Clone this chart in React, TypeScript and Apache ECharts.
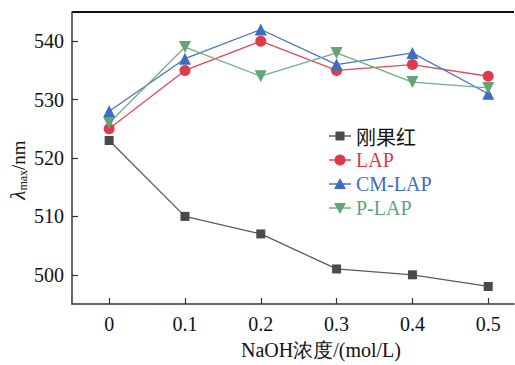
import React, { useEffect, useRef } from "react";
import * as echarts from "echarts";

const xValues = [0, 0.1, 0.2, 0.3, 0.4, 0.5];
const congoRed = [523, 510, 507, 501, 500, 498];
const lap = [525, 535, 540, 535, 536, 534];
const cmLap = [528, 537, 542, 536, 538, 531];
const pLap = [526, 539, 534, 538, 533, 532];
const seriesNames = ["刚果红", "LAP", "CM-LAP", "P-LAP"];
const seriesColors = ["#4a4a4a", "#e0394a", "#3d6cc0", "#63a378"];
const lineColors = ["#5a5a5a", "#e04a58", "#4a72c0", "#72ad84"];
const legendTextColors = ["#111111", "#e0394a", "#3d6cc0", "#63a378"];

const FONT = "Liberation Serif";

export default function App() {
  const ref = useRef<HTMLDivElement>(null);
  useEffect(() => {
    document.body.style.margin = "0";
    const chart = echarts.init(ref.current!, null, { renderer: "svg" });
    const pair = (arr: number[]) => xValues.map((x, i) => [x, arr[i]]);
    const mk = (i: number, data: number[], symbol: string, size: number, rotate = 0) => ({
      name: seriesNames[i],
      type: "line",
      data: pair(data),
      symbol,
      symbolSize: size,
      symbolRotate: rotate,
      itemStyle: { color: seriesColors[i] },
      lineStyle: { color: lineColors[i], width: 1.3 },
    });

    // legend drawn as graphic (line + marker + text)
    const legendX = 329;
    const legendY = [136, 160, 184, 208];
    const legendItems: any[] = [];
    seriesNames.forEach((name, i) => {
      const y = legendY[i];
      legendItems.push({
        type: "line",
        shape: { x1: legendX, y1: y, x2: legendX + 22, y2: y },
        style: { stroke: lineColors[i], lineWidth: 1.5 },
      });
      const cx = legendX + 11;
      if (i === 0) {
        legendItems.push({ type: "rect", shape: { x: cx - 4.5, y: y - 4.5, width: 9, height: 9 }, style: { fill: seriesColors[i] } });
      } else if (i === 1) {
        legendItems.push({ type: "circle", shape: { cx, cy: y, r: 5.5 }, style: { fill: seriesColors[i] } });
      } else if (i === 2) {
        legendItems.push({ type: "polygon", shape: { points: [[cx, y - 6], [cx + 6, y + 5], [cx - 6, y + 5]] }, style: { fill: seriesColors[i] } });
      } else {
        legendItems.push({ type: "polygon", shape: { points: [[cx, y + 6], [cx + 6, y - 5], [cx - 6, y - 5]] }, style: { fill: seriesColors[i] } });
      }
      legendItems.push({
        type: "text",
        x: legendX + 27,
        y,
        style: {
          text: name,
          fill: legendTextColors[i],
          fontSize: 20,
          fontFamily: i === 0 ? "Noto Sans CJK SC" : FONT,
          verticalAlign: "middle",
          align: "left",
        },
      });
    });

    chart.setOption({
      animation: false,
      textStyle: { fontFamily: FONT },
      grid: { left: 72, top: 12, right: 1, bottom: 49 },
      xAxis: {
        type: "value",
        min: -0.049,
        max: 0.534,
        splitNumber: 6,
        axisLine: { onZero: false, lineStyle: { color: "#333", width: 1.5 } },
        axisTick: { inside: true, length: 6, lineStyle: { color: "#333", width: 1.2 } },
        axisLabel: {
          color: "#111",
          fontSize: 20,
          fontFamily: FONT,
          margin: 10,
          showMinLabel: false,
          showMaxLabel: false,
          formatter: (v: number) => (v < -0.001 || v > 0.501 ? "" : String(Math.round(v * 10) / 10)),
        },
        splitLine: { show: false },
        name: "NaOH浓度/(mol/L)",
        nameLocation: "middle",
        nameGap: 36,
        nameTextStyle: { color: "#111", fontSize: 20, fontFamily: FONT, padding: [0, 0, 0, 56] },
      },
      yAxis: {
        type: "value",
        min: 495,
        max: 545,
        splitNumber: 5,
        axisLine: { show: true, onZero: false, lineStyle: { color: "#333", width: 1.5 } },
        axisTick: { show: true, inside: true, length: 6, lineStyle: { color: "#333", width: 1.2 } },
        axisLabel: {
          color: "#111",
          fontSize: 20,
          fontFamily: FONT,
          margin: 8,
          showMinLabel: false,
          showMaxLabel: false,
          formatter: (v: number) => (v % 10 === 0 ? String(v) : ""),
        },
        splitLine: { show: false },
      },
      graphic: [
        {
          type: "line",
          shape: { x1: 72, y1: 12, x2: 514, y2: 12 },
          style: { stroke: "#111", lineWidth: 2 },
        },
        {
          type: "text",
          x: 18,
          y: 170,
          rotation: Math.PI / 2,
          style: {
            text: "{l|λ}{s|max}{n|/nm}",
            align: "center",
            verticalAlign: "middle",
            fill: "#111",
            fontFamily: FONT,
            fontSize: 19,
            rich: {
              l: { fontSize: 21, fontStyle: "italic", fontFamily: FONT, fill: "#111" },
              s: { fontSize: 12, fontFamily: FONT, fill: "#111", verticalAlign: "bottom", padding: [9, 0, 0, 0] },
              n: { fontSize: 19, fontFamily: FONT, fill: "#111" },
            },
          },
        },
        ...legendItems,
      ],
      series: [
        mk(0, congoRed, "rect", 9),
        mk(1, lap, "circle", 11),
        mk(2, cmLap, "triangle", 12),
        mk(3, pLap, "triangle", 12, 180),
      ],
    });
    return () => chart.dispose();
  }, []);
  return <div ref={ref} style={{ width: 515, height: 365 }} />;
}
